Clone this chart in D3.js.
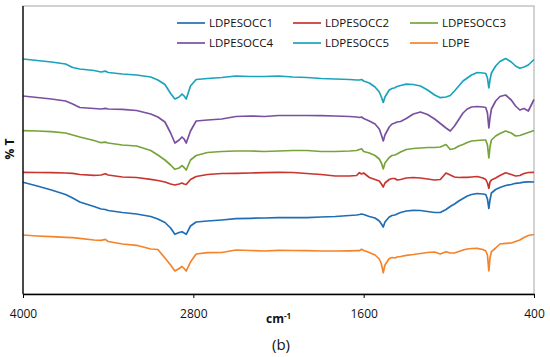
<!DOCTYPE html>
<html>
<head>
<meta charset="utf-8">
<script src="https://cdn.jsdelivr.net/npm/d3@7"></script>
<style>
  body { margin: 0; background: #fff; }
  text { font-family: "Open Sans", sans-serif; }
</style>
</head>
<body>
<main></main>
<script>
// wavenumbers (cm-1) shared by all spectra
const wavenumbers = [4000, 3900, 3800, 3700, 3650, 3600, 3500, 3450, 3420, 3400, 3300, 3200, 3100, 3050,
  3000, 2960, 2930, 2900, 2880, 2865, 2850, 2820, 2780, 2700, 2600, 2500, 2400, 2300, 2200, 2100,
  2000, 1900, 1800, 1700, 1650, 1630, 1615, 1600, 1560, 1520, 1490, 1475, 1462, 1450, 1420, 1400,
  1380, 1365, 1340, 1300, 1250, 1200, 1150, 1100, 1060, 1020, 990, 960, 930, 900, 870, 840, 800,
  760, 740, 728, 718, 710, 700, 670, 640, 600, 560, 530, 500, 470, 440, 400];

// %T (offset, arbitrary units)
const ldpesocc1 = [117.7, 114, 110, 105.5, 102, 98, 93.5, 91, 90.5, 89.5, 87.5, 86, 83.5, 81,
  77.5, 72, 65.7, 67.5, 68.3, 67, 65.7, 74, 78, 79, 80, 81.3, 81.7, 82, 82.3, 82.3,
  82.3, 83, 83.5, 84.5, 85, 85.5, 86, 85.5, 83.5, 82, 79, 76, 73, 78, 83, 84.5,
  85, 86, 87.5, 89, 89.7, 89.5, 88.5, 87.5, 87.5, 90.5, 93.5, 96, 99, 101.5, 104, 105.5, 106.5,
  106, 105.5, 101, 91.5, 100, 107, 110.5, 112.5, 114.5, 115.5, 116.7, 117.2, 117.8, 118.2, 118];
const ldpesocc2 = [127.7, 127.5, 127.3, 127, 126.7, 125.5, 124.7, 125, 126.3, 125, 123, 122.5, 120.7, 119.5,
  118, 116, 115, 116, 117, 116, 115.5, 120.5, 123.5, 125.5, 126.5, 126.7, 127, 127.3, 127.7, 127.5,
  126.5, 125.5, 124, 124, 124.5, 127.3, 126, 127, 122.5, 120.5, 119, 116, 113, 117, 120.5, 121.5,
  121.5, 120, 120.5, 122, 122.5, 122, 121, 120, 120.5, 127, 125, 123, 122.5, 122.7, 122.7, 123, 123.5,
  122, 120.5, 117, 111.7, 118, 120, 122, 124.5, 127.2, 125.5, 124, 124.5, 126.5, 127.5, 127.7];
const ldpesocc3 = [169.3, 169, 168.3, 167, 165, 163, 159.5, 157.3, 157.9, 157, 155, 154, 149.5, 145,
  140, 135, 130.7, 132, 134.3, 132.5, 130, 140, 144.5, 147.5, 148.5, 149, 149, 148.5, 149, 149.5,
  149.5, 148.5, 148.5, 149, 149.5, 150.5, 151.3, 148.5, 147, 144.5, 141, 137, 131, 137, 142.5, 144.5,
  145, 146, 148, 150.5, 151.5, 152, 152.5, 152.5, 153, 155.5, 150.5, 151.5, 154, 155.5, 157.5, 159, 159.5,
  160, 160, 155, 142, 153, 160, 164, 166.5, 169, 167, 164, 164.5, 166, 167.5, 169.5];
const ldpesocc4 = [204, 202.5, 201, 199, 196, 192.5, 191.5, 191, 191.7, 191, 190.7, 189.5, 186, 183,
  178, 167, 157, 160, 163, 161, 157, 169, 179, 180, 181, 183.5, 184, 183.5, 184.5, 184.5,
  184.5, 184.3, 184, 183.5, 183, 182.5, 183, 181.5, 179, 176, 171, 165, 159, 165, 173, 176,
  177, 178, 178.5, 181.5, 186, 188, 185.5, 181, 176.5, 172, 169, 174, 180.5, 187, 191, 193, 193.5,
  193, 192.5, 187, 172, 182, 191, 199, 203.5, 205, 200, 194, 190, 191.5, 189, 200.5];
const ldpesocc5 = [241, 239.5, 238, 236, 232.5, 231, 229.5, 228, 228.9, 227.5, 226, 225, 223, 220,
  215.5, 206.5, 201, 203, 206, 204, 201, 214, 220.5, 221.5, 222.5, 224, 223.5, 223.5, 224, 223,
  222.5, 221.5, 221, 220.5, 220, 220, 220.5, 219, 217, 213, 208, 203, 197.5, 203, 210, 211.5,
  212.3, 213.5, 214.5, 215.8, 215.5, 214, 210, 205, 202.3, 203, 204.5, 209, 214, 219, 222, 225, 227.5,
  227, 226.5, 222, 212, 220, 227, 234, 238.5, 241.5, 238, 234, 231.7, 233, 235, 240.5];
const ldpe = [65, 64, 63.3, 62.7, 62.3, 61.7, 60, 59.7, 60.6, 58.5, 56, 54.7, 51, 50.5,
  42, 35, 29, 31.5, 33.5, 31.5, 29, 38, 46, 47.3, 47.5, 50, 49.5, 49, 49.7, 49.5,
  49.3, 49, 49, 49.2, 49.3, 49.3, 50.7, 49.5, 47.5, 45, 41, 36, 27.3, 35, 41.5, 42.5,
  42, 43, 43.5, 44.7, 45.5, 46.5, 47.5, 48, 46, 48.3, 47, 47, 48.5, 50, 51, 51.5, 51.7,
  50.5, 49, 45, 29, 42, 48.3, 52, 56, 56.7, 57, 58.5, 60, 62.5, 64.5, 65.5];

const seriesNames = ["LDPESOCC1", "LDPESOCC2", "LDPESOCC3", "LDPESOCC4", "LDPESOCC5", "LDPE"];
const seriesValues = [ldpesocc1, ldpesocc2, ldpesocc3, ldpesocc4, ldpesocc5, ldpe];
const colors = ["#1f6eb4", "#c8352f", "#77a43a", "#7a4f9f", "#1aa3bd", "#f5832a"];
const xTicks = [4000, 2800, 1600, 400];

const w = 550;
const h = 357;
const plotLeft = 23, plotRight = 534, plotTop = 6, plotBottom = 294;

const svg = d3.select("main")
  .append("svg")
  .attr("width", w)
  .attr("height", h);

const x = d3.scaleLinear().domain([4000, 400]).range([plotLeft, plotRight]);
const y = d3.scaleLinear().domain([6, 294]).range([plotBottom, plotTop]);

// frame
svg.append("rect")
  .attr("x", plotLeft)
  .attr("y", plotTop)
  .attr("width", plotRight - plotLeft)
  .attr("height", plotBottom - plotTop)
  .attr("fill", "none")
  .attr("stroke", "#a6a6a6")
  .attr("stroke-width", 1);

const line = d3.line()
  .x((d, i) => x(wavenumbers[i]))
  .y(d => y(d));

svg.append("g")
  .selectAll("path")
  .data(seriesValues)
  .enter()
  .append("path")
  .attr("fill", "none")
  .attr("stroke", (d, i) => colors[i])
  .attr("stroke-width", 1.7)
  .attr("stroke-linejoin", "round")
  .attr("d", line);

// axes
const xAxis = svg.append("g")
  .attr("transform", `translate(0,${plotBottom})`)
  .call(d3.axisBottom(x)
    .tickValues(xTicks)
    .tickFormat(d3.format("d"))
    .tickSize(4)
    .tickPadding(11)
    .tickSizeOuter(0));
xAxis.select(".domain").attr("stroke", "#000").attr("stroke-width", 1.3);
xAxis.selectAll(".tick line").attr("stroke", "#000");
xAxis.selectAll(".tick text")
  .attr("font-size", 12)
  .attr("font-family", "Open Sans, sans-serif")
  .attr("fill", "#111");

svg.append("line")
  .attr("x1", plotLeft).attr("x2", plotLeft)
  .attr("y1", plotTop).attr("y2", plotBottom)
  .attr("stroke", "#000")
  .attr("stroke-width", 1.3);

// axis titles
const xTitle = svg.append("text")
  .attr("x", 266)
  .attr("y", 323)
  .attr("font-size", 12)
  .attr("font-weight", "bold")
  .attr("fill", "#111");
xTitle.append("tspan").text("cm");
xTitle.append("tspan").attr("font-size", 8).attr("dy", -4).text("-1");

svg.append("text")
  .attr("transform", "translate(14,149) rotate(-90)")
  .attr("text-anchor", "middle")
  .attr("font-size", 12)
  .attr("font-weight", "bold")
  .attr("fill", "#111")
  .text("% T");

svg.append("text")
  .attr("x", 281)
  .attr("y", 350)
  .attr("text-anchor", "middle")
  .attr("font-family", "Liberation Serif, serif")
  .attr("font-size", 15)
  .attr("fill", "#111")
  .text("(b)");

// legend
const legendCols = [177, 293, 410];
const legendRows = [23, 43];
const legend = svg.append("g")
  .selectAll("g")
  .data(seriesNames)
  .enter()
  .append("g")
  .attr("transform", (d, i) => `translate(${legendCols[i % 3]},${legendRows[Math.floor(i / 3)]})`);
legend.append("line")
  .attr("x1", 0).attr("x2", 28)
  .attr("stroke", (d, i) => colors[i])
  .attr("stroke-width", 1.7);
legend.append("text")
  .attr("x", 32)
  .attr("dy", "0.35em")
  .attr("font-size", 11.5)
  .attr("fill", "#111")
  .text(d => d);
</script>
</body>
</html>
